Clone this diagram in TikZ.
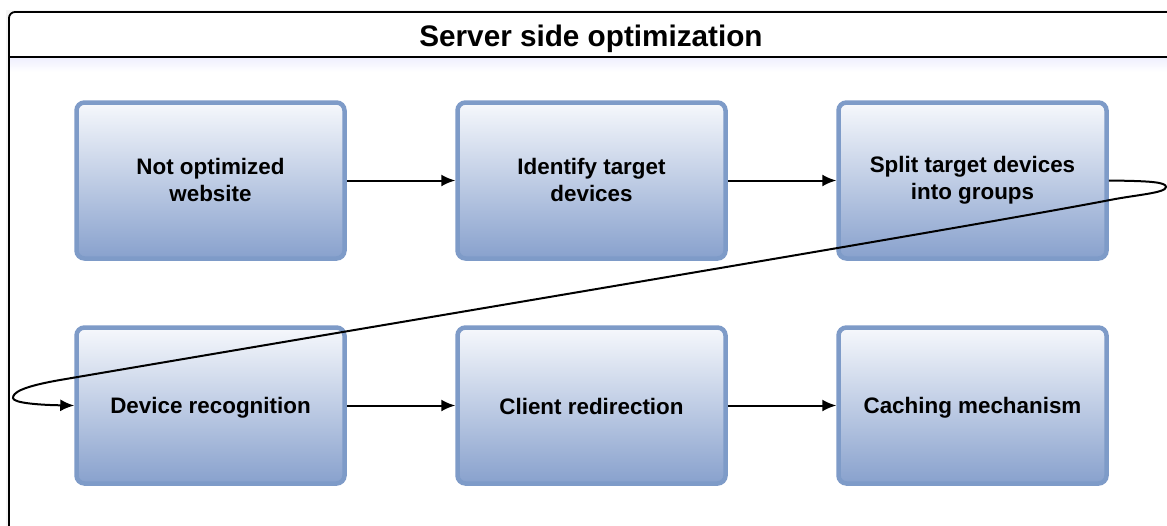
\documentclass[tikz,border=0pt]{standalone}
\usepackage{fontspec}
\setmainfont{Liberation Sans}
\usetikzlibrary{arrows.meta}
\definecolor{boxedge}{HTML}{7E9BC8}
\definecolor{boxtop}{HTML}{F6F8FC}
\definecolor{boxbottom}{HTML}{88A1CD}
% balanced strut so caps sit on the optical centre of each box
\newcommand\capstrut{\rule[-2pt]{0pt}{22pt}}
\tikzset{
  stepbox/.style={draw=boxedge, line width=4.5pt, rounded corners=8pt,
    top color=boxtop, bottom color=boxbottom, minimum width=268pt,
    minimum height=156pt, align=center, inner sep=0pt,
    font=\fontsize{22.4}{27}\selectfont\bfseries, text=black,
    execute at begin node=\capstrut, execute at end node=\capstrut},
  flow/.style={line width=2pt, -{Latex[length=14pt,width=12pt]}},
}
\begin{document}
\begin{tikzpicture}[x=1pt,y=-1pt]
  \useasboundingbox (0,0) rectangle (1167,525);
  \clip (0,0) rectangle (1167,525);
  % frame with header
  \fill[black!4] (6,10) rectangle (1190,545);
  \draw[line width=1.8pt, rounded corners=6pt, fill=white] (9,12) rectangle (1190,560);
  \shade[top color=black!9!blue!6, bottom color=white] (10,58) rectangle (1190,72);
  \draw[line width=1.8pt] (9,57) -- (1190,57);
  \node[font=\fontsize{29.7}{34}\selectfont\bfseries] (title) at (591,38.5) {Server side optimization};
  % process steps
  \node[stepbox] (b1) at (210.5,180.5) {Not optimized\\website};
  \node[stepbox] (b2) at (591.5,180.5) {Identify target\\devices};
  \node[stepbox] (b3) at (972.5,180.5) {Split target devices\\into groups};
  \node[stepbox] (b4) at (210.5,405.5) {Device recognition};
  \node[stepbox] (b5) at (591.5,405.5) {Client redirection};
  \node[stepbox] (b6) at (972.5,405.5) {Caching mechanism};
  % connectors
  \draw[flow] (b1) -- (b2);
  \draw[flow] (b2) -- (b3);
  \draw[flow] (b4) -- (b5);
  \draw[flow] (b5) -- (b6);
  \draw[flow] (b3.east) .. controls (1150,181) and (1166,182) .. (1166,187)
    .. controls (1166,193) and (1135,195) .. (1110,200)
    .. controls (980,225) and (500,305) .. (60,380)
    .. controls (20,387) and (13,393) .. (13,398)
    .. controls (13,403) and (40,405) .. (b4.west);
\end{tikzpicture}
\end{document}
